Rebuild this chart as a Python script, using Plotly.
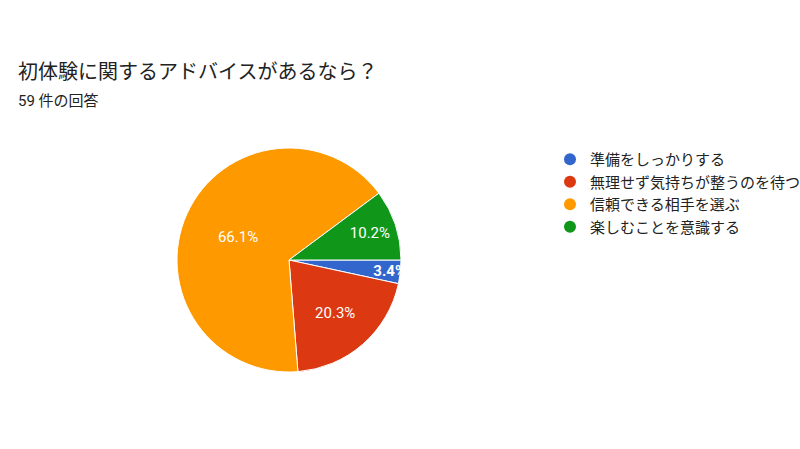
import plotly.graph_objects as go

labels = ["準備をしっかりする", "無理せず気持ちが整うのを待つ", "信頼できる相手を選ぶ", "楽しむことを意識する"]
counts = [2, 12, 39, 6]
colors = ["#3366cc", "#dc3912", "#ff9900", "#109618"]
title = "初体験に関するアドバイスがあるなら？"
subtitle = "59 件の回答"

FONT = "Roboto, 'Noto Sans CJK JP', sans-serif"
W, H = 800, 449

templates = ["<b>%{percent:.1%}</b>"] + ["%{percent:.1%}"] * (len(counts) - 1)

fig = go.Figure()
fig.add_trace(go.Pie(
    labels=labels, values=counts, sort=False, direction="clockwise", rotation=90,
    marker=dict(colors=colors, line=dict(color="white", width=1)),
    texttemplate=templates,
    textposition="inside", insidetextorientation="horizontal",
    textfont=dict(color="white", size=15, family=FONT),
    showlegend=False, hoverinfo="label+percent",
    domain=dict(x=[177/W, 401/W], y=[1-372/H, 1-148/H]),
))
for lab, col in zip(labels, colors):
    fig.add_trace(go.Scatter(x=[None], y=[None], mode="markers", name=lab,
                             marker=dict(color=col, size=14, symbol="circle")))

fig.update_layout(
    width=W, height=H, margin=dict(l=0, r=0, t=0, b=0, autoexpand=False),
    paper_bgcolor="white", plot_bgcolor="white",
    font=dict(family=FONT, color="#222"),
    xaxis=dict(visible=False), yaxis=dict(visible=False),
    uniformtext=dict(minsize=15, mode="show"),
    legend=dict(x=550/W, y=1-143/H, xanchor="left", yanchor="top",
                bgcolor="rgba(0,0,0,0)",
                font=dict(size=15, color="#222", family=FONT),
                itemsizing="constant", tracegroupgap=0, itemwidth=30),
    annotations=[
        dict(text=title, x=16/W, y=1-72/H, xref="paper", yref="paper",
             xanchor="left", yanchor="middle", showarrow=False,
             font=dict(size=20, color="#222", family=FONT)),
        dict(text=subtitle, x=16/W, y=1-101/H, xref="paper", yref="paper",
             xanchor="left", yanchor="middle", showarrow=False,
             font=dict(size=15, color="#222", family=FONT)),
    ],
)
fig.write_html("out.html", config={"displayModeBar": False},
               post_script="document.body.style.margin='0';")
